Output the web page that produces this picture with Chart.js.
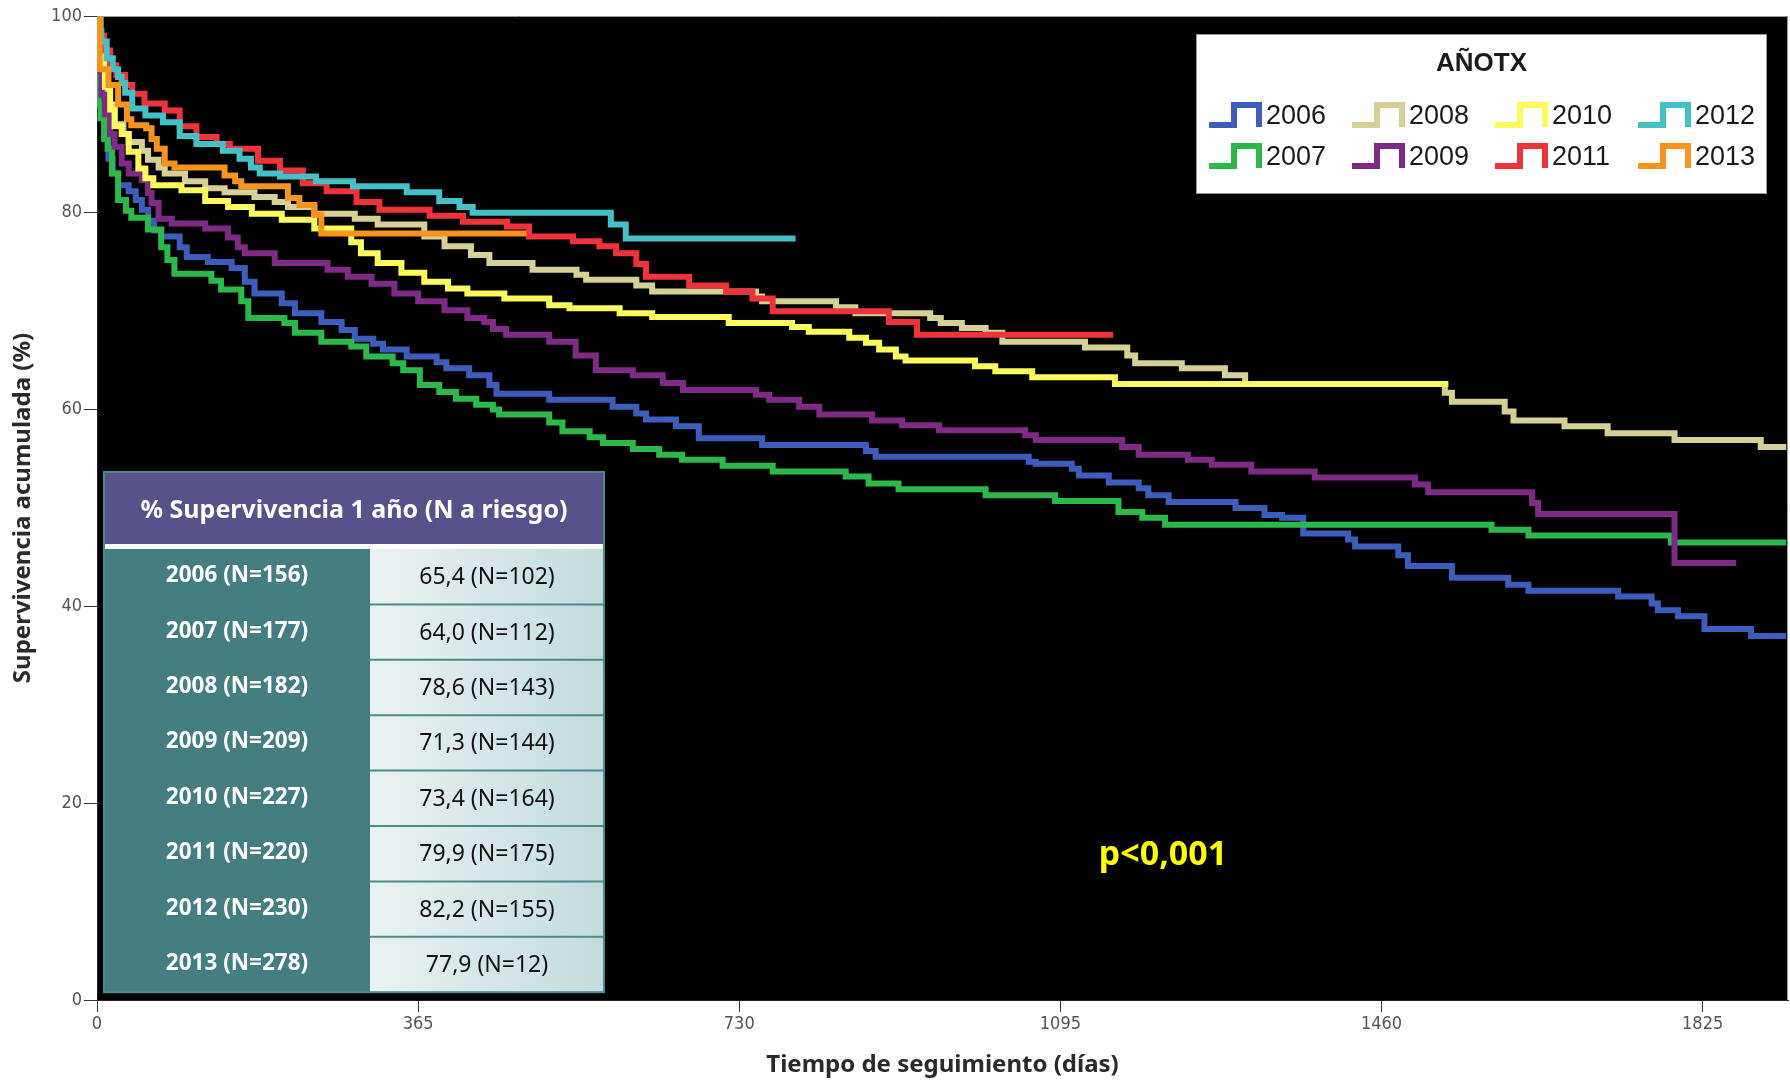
<!DOCTYPE html>
<html>
<head>
<meta charset="utf-8">
<title>Supervivencia acumulada por año de trasplante</title>
<script src="https://cdn.jsdelivr.net/npm/chart.js@4.4.1/dist/chart.umd.min.js"></script>
<style>
  body { margin: 0; background: #fff; }
  #wrap { width: 1790px; height: 1081px; position: relative; }
</style>
</head>
<body>
<div id="wrap"><canvas id="kmChart"></canvas></div>
<script>
// [dia, supervivencia %] en cada caida de la curva
const km2006 = [[0,100],[2,96],[5,92],[9,88],[13,85.5],[18,84],[24,82.8],[36,82.2],[44,81.3],[51,80.3],[58,79.2],[65,78.2],[73,77.6],[94,76.5],[102,75.5],[126,75.0],[153,74.4],[168,73.0],[179,71.8],[210,70.8],[225,69.8],[255,68.9],[278,68.1],[293,67.2],[314,66.7],[325,66.1],[352,65.4],[386,64.8],[397,64.2],[423,63.5],[446,62.5],[454,61.6],[514,61.0],[586,60.3],[613,59.6],[624,59.0],[658,58.3],[684,57.1],[756,56.4],[874,55.8],[885,55.2],[1059,54.7],[1067,54.5],[1108,54.0],[1116,53.3],[1150,52.6],[1184,52.0],[1195,51.3],[1218,50.6],[1294,50.0],[1327,49.3],[1347,49.0],[1371,47.4],[1422,46.8],[1430,46.1],[1479,45.2],[1490,44.1],[1540,42.9],[1604,42.2],[1627,41.6],[1729,41.0],[1767,40.3],[1774,39.6],[1797,39.0],[1827,37.7],[1880,37.0],[1920,37.0]];
const km2007 = [[0,100],[1,95],[2,91],[4,89.6],[8,87.5],[12,86.5],[17,84],[24,81.3],[33,80.2],[39,79.5],[58,78.3],[73,76.5],[80,75.2],[88,73.8],[130,73.1],[141,72.2],[164,71.0],[172,69.3],[213,68.8],[225,67.8],[255,66.9],[289,66.4],[306,65.4],[336,64.7],[348,64.0],[367,62.5],[389,61.8],[408,61.1],[431,60.5],[450,60.0],[457,59.5],[514,58.7],[529,57.8],[560,57.2],[575,56.6],[609,56.0],[639,55.4],[665,54.9],[711,54.3],[768,53.7],[851,53.2],[877,52.5],[911,51.9],[1010,51.3],[1089,50.7],[1161,49.6],[1188,49.0],[1214,48.3],[1585,47.8],[1627,47.2],[1789,46.5],[1920,46.5]];
const km2008 = [[0,100],[3,96],[7,93],[12,91],[20,89],[30,88],[36,87.2],[51,86.3],[58,85.4],[70,84.6],[77,84.0],[100,83.2],[123,82.5],[145,82.1],[179,81.6],[202,81.1],[217,80.6],[247,79.9],[293,79.4],[319,78.8],[372,77.6],[395,76.6],[425,75.7],[446,74.9],[495,74.2],[545,73.7],[556,73.2],[613,72.6],[631,72.0],[749,71.5],[756,71.0],[840,70.4],[862,69.8],[947,69.3],[959,68.8],[983,68.3],[1010,67.8],[1029,66.9],[1123,66.3],[1171,65.5],[1180,64.7],[1233,64.2],[1282,63.5],[1305,62.6],[1532,61.7],[1540,60.8],[1600,59.8],[1610,58.9],[1668,58.3],[1717,57.6],[1793,56.9],[1891,56.2],[1920,56.2]];
const km2009 = [[0,100],[1,94.4],[5,92],[9,90],[15,88],[20,86.7],[28,85],[36,84],[51,83.3],[58,82],[62,81],[70,79.4],[85,78.9],[123,78.4],[149,77.5],[160,76.5],[168,75.9],[202,74.9],[262,74.2],[285,73.5],[312,72.8],[338,71.8],[365,71.0],[395,70.1],[421,69.3],[440,68.9],[450,68.2],[465,67.6],[514,66.9],[544,65.5],[567,64.0],[609,63.5],[643,62.7],[666,62.0],[749,61.5],[764,61.0],[798,60.3],[821,59.5],[881,58.9],[915,58.4],[957,57.9],[1055,57.4],[1067,56.9],[1165,56.2],[1184,55.4],[1240,54.9],[1267,54.4],[1312,53.7],[1384,53.1],[1498,52.4],[1513,51.6],[1631,50.5],[1638,49.4],[1793,44.4],[1863,44.4]];
const km2010 = [[0,100],[4,96],[9,92.8],[15,90.5],[20,88.8],[28,88],[36,86.2],[47,84.5],[55,83.5],[64,82.8],[96,82.3],[123,81.2],[149,80.6],[176,79.9],[210,79.3],[247,78.4],[289,77.0],[300,75.9],[319,74.9],[346,73.9],[372,73.0],[399,72.3],[421,71.8],[463,71.3],[514,70.6],[537,70.3],[594,69.8],[631,69.4],[718,68.8],[790,68.4],[809,67.9],[855,67.3],[874,66.8],[889,66.1],[908,65.4],[919,65.0],[998,64.4],[1021,63.9],[1063,63.3],[1157,62.6],[1536,62.6]];
const km2011 = [[0,100],[3,98],[8,96.5],[15,95],[22,94],[32,93],[40,92.1],[54,91.1],[77,90.4],[94,88.8],[113,87.7],[136,87.0],[151,86.5],[183,85.3],[208,84.3],[234,83.0],[261,82.2],[295,81.1],[321,80.3],[378,79.7],[416,79.1],[466,78.6],[491,77.6],[541,77.1],[571,76.6],[590,75.9],[613,74.8],[624,73.5],[673,72.6],[715,72.0],[745,71.3],[768,70.0],[900,68.9],[932,67.6],[1155,67.6]];
const km2012 = [[0,100],[3,98.5],[5,97.4],[11,95.7],[18,94.6],[24,93.8],[28,93.2],[32,92.2],[40,90.6],[55,89.9],[75,89.2],[94,87.8],[113,87.0],[143,86.3],[162,85.5],[175,84.6],[185,84.0],[208,83.7],[249,83.2],[291,82.7],[352,82.1],[389,81.2],[412,80.6],[427,80.0],[584,78.8],[601,77.4],[794,77.4]];
const km2013 = [[0,100],[3,94.6],[13,93.0],[24,91.0],[34,89.5],[39,88.9],[56,88.6],[62,87.5],[68,86.5],[77,85.0],[88,84.6],[145,83.8],[157,83.2],[164,82.7],[217,81.5],[230,80.8],[247,79.8],[255,77.9],[488,77.9]];

const years = ['2006', '2007', '2008', '2009', '2010', '2011', '2012', '2013'];
const curves = [km2006, km2007, km2008, km2009, km2010, km2011, km2012, km2013];

const xTicks = [0, 365, 730, 1095, 1460, 1825];
const yTicks = [0, 20, 40, 60, 80, 100];

// tabla: N total, supervivencia a 1 año y N a riesgo
const nTotal = [156, 177, 182, 209, 227, 220, 230, 278];
const surv1y = [65.4, 64.0, 78.6, 71.3, 73.4, 79.9, 82.2, 77.9];
const nRisk = [102, 112, 143, 144, 164, 175, 155, 12];

const pText = 'p<0,001';

const colors = ['#3d5dbd', '#2db84b', '#d6d097', '#7e2a86', '#fcfa5c', '#ef333b', '#45c0c6', '#f7941e'];

const FONT = '"Noto Sans", "Open Sans", sans-serif';

function drawLegend(ctx) {
  const bx = 1196, by = 34, bw = 571, bh = 160;
  ctx.fillStyle = '#fff';
  ctx.fillRect(bx, by, bw, bh);
  ctx.strokeStyle = '#999';
  ctx.lineWidth = 1;
  ctx.strokeRect(bx + 0.5, by + 0.5, bw - 1, bh - 1);

  ctx.fillStyle = '#1a1a1a';
  ctx.font = 'bold 26px "Liberation Sans", Arial, sans-serif';
  ctx.textAlign = 'center';
  ctx.textBaseline = 'middle';
  ctx.fillText('AÑOTX', bx + bw / 2, by + 30);

  ctx.font = '27px "Liberation Sans", Arial, sans-serif';
  ctx.textAlign = 'left';
  years.forEach((yr, i) => {
    const col = Math.floor(i / 2), row = i % 2;
    const ix = bx + 13 + col * 143;
    const iy = by + 83 + row * 41;
    ctx.strokeStyle = colors[i];
    ctx.lineWidth = 6;
    ctx.lineJoin = 'miter';
    ctx.beginPath();
    ctx.moveTo(ix, iy + 8);
    ctx.lineTo(ix + 25, iy + 8);
    ctx.lineTo(ix + 25, iy - 12);
    ctx.lineTo(ix + 50, iy - 12);
    ctx.lineTo(ix + 50, iy + 10);
    ctx.stroke();
    ctx.fillStyle = '#1a1a1a';
    ctx.fillText(yr, ix + 57, iy);
  });
}

function drawTable(ctx) {
  const left = 104, mid = 370, right = 604;
  const top = 472, headH = 72, gap = 5, rowH = 55.4;
  const rowsTop = top + headH + gap;

  ctx.fillStyle = '#55538a';
  ctx.fillRect(left, top, right - left, headH);
  ctx.fillStyle = '#fff';
  ctx.fillRect(left, top + headH, right - left, gap);

  ctx.fillStyle = '#447e81';
  ctx.fillRect(left, rowsTop, mid - left, rowH * years.length);
  const grad = ctx.createLinearGradient(mid, 0, right, 0);
  grad.addColorStop(0, '#eaf2f3');
  grad.addColorStop(1, '#c3dbde');
  ctx.fillStyle = grad;
  ctx.fillRect(mid, rowsTop, right - mid, rowH * years.length);

  ctx.strokeStyle = '#4b8a8d';
  ctx.lineWidth = 2;
  for (let i = 1; i < years.length; i++) {
    const y = rowsTop + rowH * i;
    ctx.beginPath();
    ctx.moveTo(mid, y);
    ctx.lineTo(right, y);
    ctx.stroke();
  }
  ctx.strokeRect(left, top, right - left, rowsTop + rowH * years.length - top);

  ctx.textAlign = 'center';
  ctx.textBaseline = 'middle';
  ctx.fillStyle = '#fff';
  ctx.font = 'bold 25px ' + FONT;
  ctx.fillText('% Supervivencia 1 año (N a riesgo)', (left + right) / 2, top + headH / 2 + 3);

  years.forEach((yr, i) => {
    const cy = rowsTop + rowH * (i + 0.5);
    ctx.fillStyle = '#fff';
    ctx.font = 'bold 22.5px ' + FONT;
    ctx.fillText(yr + ' (N=' + nTotal[i] + ')', (left + mid) / 2, cy - 1);
    ctx.fillStyle = '#111';
    ctx.font = '23px ' + FONT;
    ctx.fillText(surv1y[i].toFixed(1).replace('.', ',') + ' (N=' + nRisk[i] + ')', (mid + right) / 2, cy + 1);
  });
}

const kmDecor = {
  id: 'kmDecor',
  beforeDraw(chart) {
    const { ctx, chartArea: a } = chart;
    ctx.save();
    ctx.fillStyle = '#000';
    ctx.fillRect(a.left, a.top, a.right - a.left, a.bottom - a.top);
    ctx.restore();
  },
  afterDatasetsDraw(chart) {
    const { ctx, chartArea: a } = chart;
    ctx.save();
    ctx.strokeStyle = '#9a9a9a';
    ctx.lineWidth = 1;
    ctx.beginPath();
    ctx.moveTo(a.left, a.top + 0.5);
    ctx.lineTo(a.right - 0.5, a.top + 0.5);
    ctx.lineTo(a.right - 0.5, a.bottom);
    ctx.stroke();

    drawTable(ctx);
    drawLegend(ctx);

    ctx.fillStyle = '#ffff00';
    ctx.font = 'bold 34px ' + FONT;
    ctx.textAlign = 'center';
    ctx.textBaseline = 'middle';
    ctx.fillText(pText, 1163, 855);
    ctx.restore();
  }
};

const tickFont = { family: '"DejaVu Sans Condensed", "DejaVu Sans", sans-serif', size: 18 };

const ctx = document.getElementById('kmChart');
const kmChart = new Chart(ctx, {
  type: 'line',
  data: {
    datasets: curves.map((c, i) => ({
      label: years[i],
      data: c.map(p => ({ x: p[0], y: p[1] })),
      borderColor: colors[i],
      borderWidth: 6,
      pointRadius: 0,
      stepped: true,
      fill: false,
      order: years.length - 1 - i   // años recientes encima
    }))
  },
  plugins: [kmDecor],
  options: {
    responsive: true,
    maintainAspectRatio: false,
    animation: false,
    layout: { padding: { top: 16, right: 2, left: 0, bottom: 0 } },
    plugins: {
      legend: { display: false },
      tooltip: { enabled: false }
    },
    scales: {
      x: {
        type: 'linear',
        min: 0,
        max: 1922,
        afterFit: (s) => { s.height = 81; },
        afterBuildTicks: (s) => { s.ticks = xTicks.map(v => ({ value: v })); },
        grid: { drawOnChartArea: false, tickLength: 12, color: '#333' },
        border: { color: '#222' },
        ticks: {
          color: '#555',
          font: tickFont,
          padding: 2,
          maxRotation: 0,
          autoSkip: false,
          callback: (v) => String(v)
        },
        title: {
          display: true,
          text: 'Tiempo de seguimiento (días)',
          color: '#2a2a2a',
          font: { family: FONT, size: 24, weight: 'bold' },
          padding: { top: 0, bottom: 1 }
        }
      },
      y: {
        min: 0,
        max: 100,
        afterFit: (s) => { s.width = 97; },
        afterBuildTicks: (s) => { s.ticks = yTicks.map(v => ({ value: v })); },
        grid: { drawOnChartArea: false, tickLength: 13, color: '#333' },
        border: { color: '#222' },
        ticks: {
          color: '#555',
          font: tickFont,
          padding: 2,
          callback: (v) => String(v)
        },
        title: {
          display: true,
          text: 'Supervivencia acumulada (%)',
          color: '#2a2a2a',
          font: { family: FONT, size: 24, weight: 'bold' },
          padding: { top: 9, bottom: 0 }
        }
      }
    }
  }
});
</script>
</body>
</html>
